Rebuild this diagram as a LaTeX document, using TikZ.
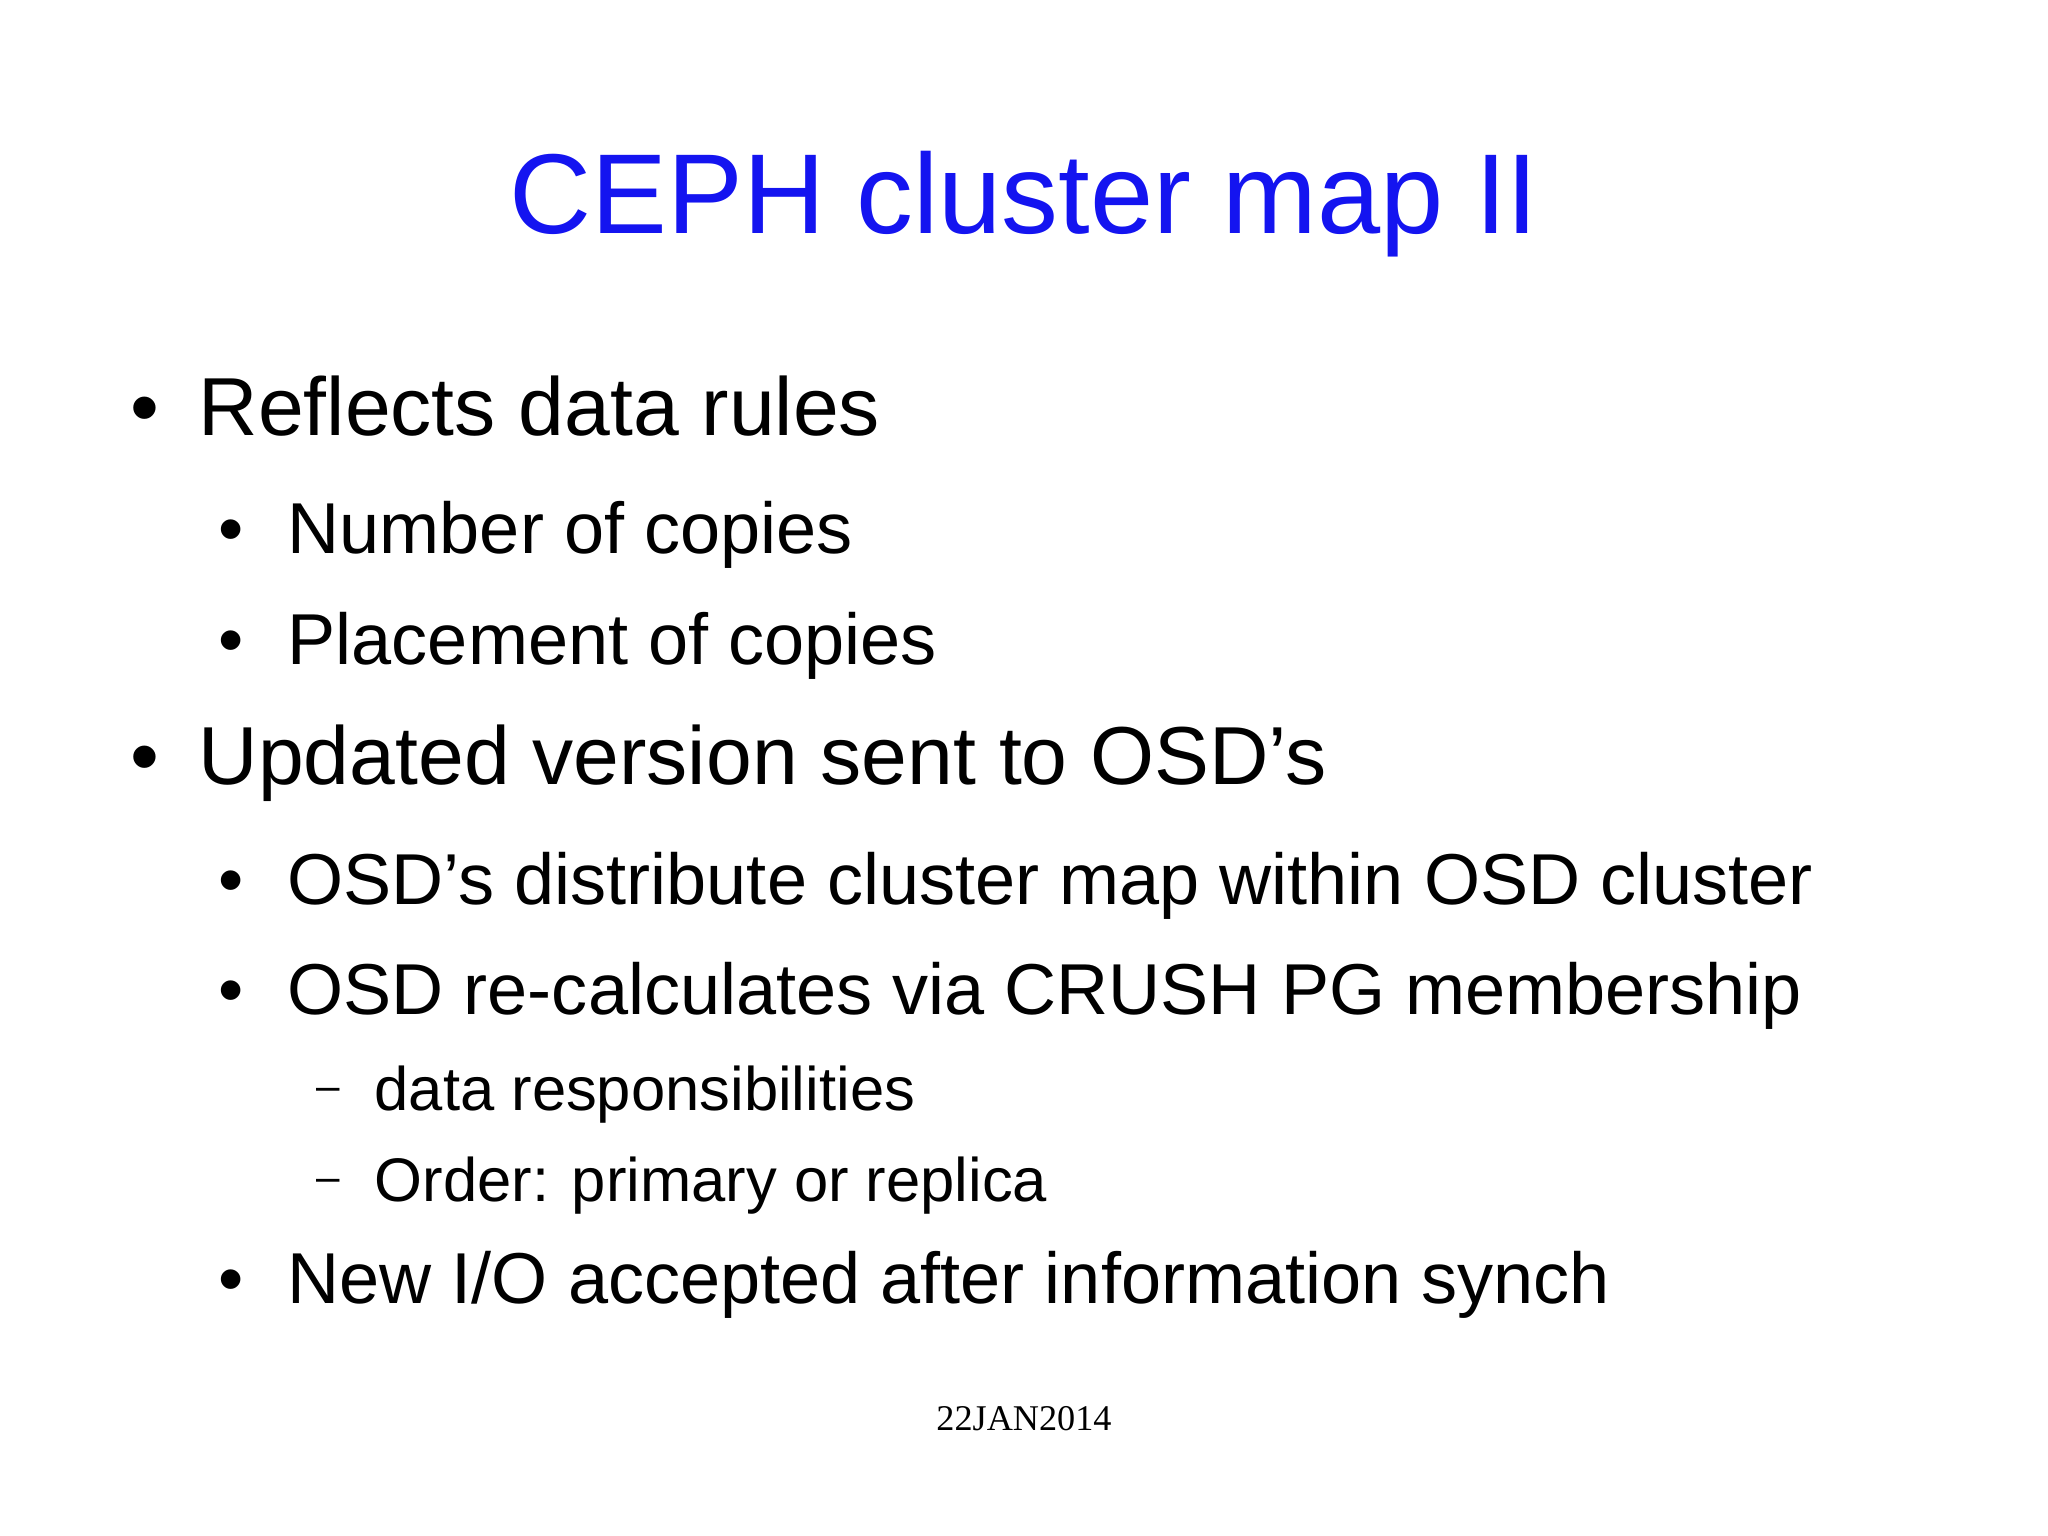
\documentclass[tikz,border=0pt]{standalone}
\usepackage{fontspec}
\setmainfont{Liberation Sans}
\newfontfamily\seriff{Liberation Serif}
\definecolor{ttl}{RGB}{20,20,240}
\begin{document}
\begin{tikzpicture}[x=0.01cm,y=-0.01cm,
  lone/.style={anchor=base west,inner sep=0,font=\fontsize{23.4}{28}\selectfont},
  ltwo/.style={anchor=base west,inner sep=0,font=\fontsize{20.5}{25}\selectfont},
  lthree/.style={anchor=base west,inner sep=0,font=\fontsize{17.5}{22}\selectfont},
  dsh/.style={anchor=base west,inner sep=0,font=\fontsize{12}{14}\selectfont}]
\useasboundingbox (0,0) rectangle (2048,1535);
\node[anchor=base,inner sep=0,text=ttl,font=\fontsize{32.3}{40}\selectfont] (title) at (1024,233) {CEPH cluster map II};
\node[lone] (b1d) at (130,435) {•}; \node[lone] (b1) at (198,435) {Reflects data rules};
\node[ltwo] (b2d) at (218,553) {•}; \node[ltwo] (b2) at (287,553) {Number of copies};
\node[ltwo] (b3d) at (218,664) {•}; \node[ltwo] (b3) at (287,664) {Placement of copies};
\node[lone] (b4d) at (130,784) {•}; \node[lone] (b4) at (198,784) {Updated version sent to OSD’s};
\node[ltwo] (b5d) at (218,904) {•}; \node[ltwo] (b5) at (287,904) {OSD’s distribute cluster map within OSD cluster};
\node[ltwo] (b6d) at (218,1014) {•}; \node[ltwo] (b6) at (287,1014) {OSD re-calculates via CRUSH PG membership};
\node[dsh] (b7d) at (316,1100) {–}; \node[lthree] (b7) at (374,1110) {data responsibilities};
\node[dsh] (b8d) at (316,1191) {–}; \node[lthree] (b8) at (374,1201) {Order: primary or replica};
\node[ltwo] (b9d) at (218,1303) {•}; \node[ltwo] (b9) at (287,1303) {New I/O accepted after information synch};
\node[anchor=base,inner sep=0,font=\seriff\fontsize{10.3}{13}\selectfont] (foot) at (1024,1430) {22JAN2014};
\end{tikzpicture}
\end{document}
